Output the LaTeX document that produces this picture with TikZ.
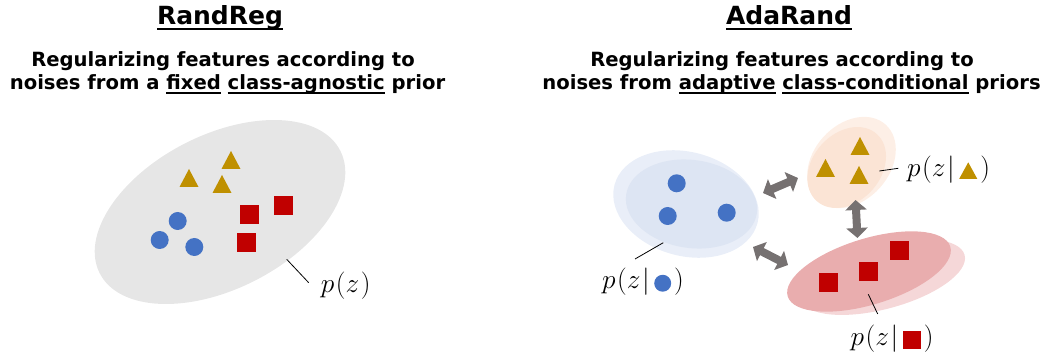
\documentclass[tikz,border=0pt]{standalone}
\usepackage{fontspec}
\usepackage{graphicx}
\newfontfamily\hfont{DejaVu Sans}
\usetikzlibrary{arrows.meta,shapes.geometric}
\definecolor{cgray}{HTML}{E6E6E6}
\definecolor{cblue}{HTML}{4472C4}
\definecolor{cred}{HTML}{C00000}
\definecolor{cgold}{HTML}{BF9000}
\definecolor{cblueA}{HTML}{DDE5F3}
\definecolor{cblueB}{HTML}{E9EEF8}
\definecolor{corA}{HTML}{FBE4D5}
\definecolor{corB}{HTML}{FDEFE6}
\definecolor{credA}{HTML}{E9ADAE}
\definecolor{credB}{HTML}{F5D7D8}
\definecolor{carrow}{HTML}{767171}
\newcommand\ulx[3]{\setbox0\hbox{#3}\rlap{\rule[#1]{\wd0}{#2}}\box0\relax}
\newcommand\symcirc{\tikz[baseline=0pt]{\fill[cblue] (0,5.1pt) circle (7.7pt);}}
\newcommand\symtri{\tikz[baseline=0pt]{\fill[cgold] (-8.2pt,-1.8pt) -- (0,13.2pt) -- (8.2pt,-1.8pt) -- cycle;}}
\newcommand\symsq{\tikz[baseline=0pt]{\fill[cred] (-8.2pt,-2.7pt) rectangle (8.2pt,13.6pt);}}
\newcommand\mlabel[1]{\scalebox{1.1}{#1}}
\tikzset{
  ttl/.style={font=\hfont\bfseries\fontsize{25}{30}\selectfont, inner sep=0pt, anchor=base},
  sub/.style={font=\hfont\bfseries\fontsize{19.6}{23}\selectfont, inner sep=0pt, anchor=base},
  region/.style={ellipse, inner sep=0pt, draw=none},
  dot/.style={circle, fill=cblue, minimum size=18pt, inner sep=0pt},
  sqm/.style={rectangle, fill=cred, minimum size=19pt, inner sep=0pt},
  trim/.pic={\fill[cgold] (-9.5,9) -- (0,-9) -- (9.5,9) -- cycle;},
  lbl/.style={draw=black, line width=0.8pt},
  mlab/.style={font=\fontsize{24.88}{30}\selectfont, inner sep=0pt, anchor=west},
  dbl/.style={draw=carrow, line width=8pt, {Triangle[length=10pt,width=21pt]}-{Triangle[length=10pt,width=21pt]}}
}
\begin{document}
\begin{tikzpicture}[x=1pt,y=-1pt]
\useasboundingbox (0,0) rectangle (1042,358);
% ---------- titles ----------
\node[ttl] (T1) at (220,25) {\ulx{-5pt}{2pt}{RandReg}};
\node[ttl] (T2) at (789,25) {\ulx{-5pt}{2pt}{AdaRand}};
\node[sub] (S1a) at (223,67) {Regularizing features according to};
\node[sub] (S1b) at (227.5,90) {noises from a \ulx{-4pt}{1.5pt}{fixed} \ulx{-4pt}{1.5pt}{class-agnostic} prior};
\node[sub] (S2a) at (782,67) {Regularizing features according to};
\node[sub] (S2b) at (791.5,90) {noises from \ulx{-4pt}{1.5pt}{adaptive} \ulx{-4pt}{1.5pt}{class-conditional} priors};
% ---------- left panel ----------
\node[region, fill=cgray, minimum width=270pt, minimum height=154pt, rotate=27] (P) at (220,212) {};
\pic at (231,160) {trim};
\pic at (189,178) {trim};
\pic at (222,184) {trim};
\node[sqm] (q1) at (249.5,214.5) {};
\node[sqm] (q2) at (283.3,205.3) {};
\node[sqm] (q3) at (246.3,242.2) {};
\node[dot] (c1) at (177.7,221) {};
\node[dot] (c2) at (159.7,240) {};
\node[dot] (c3) at (194.3,247) {};
\coordinate (lp1) at (286.7,259.3);
\coordinate (lp2) at (308.7,282.7);
\draw[lbl] (lp1) -- (lp2);
\node[mlab] (Lp) at (320.7,285.5) {\mlabel{$p\mkern1mu(z\mkern1mu)$}};
% ---------- right panel ----------
\node[region, fill=cblueB, minimum width=148pt, minimum height=104pt, rotate=-15] (B2) at (686,204) {};
\node[region, fill=cblueA, minimum width=132pt, minimum height=88pt, rotate=-8] (B1) at (691.5,204) {};
\node[region, fill=corB, minimum width=102pt, minimum height=76pt, rotate=48] (O2) at (851.5,162.5) {};
\node[region, fill=corA, minimum width=90pt, minimum height=68pt, rotate=48] (O1) at (846.7,167.5) {};
\node[region, fill=credB, minimum width=170pt, minimum height=64pt, rotate=15] (R2) at (882.5,277) {};
\node[region, fill=credA, minimum width=170pt, minimum height=66pt, rotate=17] (R1) at (869,271.5) {};
\node[dot] (d1) at (676.7,183.3) {};
\node[dot] (d2) at (667.7,216) {};
\node[dot] (d3) at (726.7,212.7) {};
\pic at (860,146) {trim};
\pic at (825.5,168) {trim};
\pic at (859,175) {trim};
\node[sqm] (r1) at (828.3,282.5) {};
\node[sqm] (r2) at (868.7,271.5) {};
\node[sqm] (r3) at (899.3,250.5) {};
% arrows
\coordinate (a1s) at (763,193);
\coordinate (a1e) at (798,178);
\coordinate (a2s) at (855.5,200);
\coordinate (a2e) at (857.5,238);
\coordinate (a3s) at (753,247);
\coordinate (a3e) at (788,265);
\draw[dbl] (a1s) -- (a1e);
\draw[dbl] (a2s) -- (a2e);
\draw[dbl] (a3s) -- (a3e);
% labels
\coordinate (lb1) at (663.3,242.7);
\coordinate (lb2) at (635,259);
\draw[lbl] (lb1) -- (lb2);
\node[mlab] (Lb) at (602,282) {\mlabel{$p\mkern1mu(z\mkern1mu|\mkern3mu$\symcirc$\mkern2mu)$}};
\coordinate (lo1) at (879.3,171);
\coordinate (lo2) at (898.3,168.3);
\draw[lbl] (lo1) -- (lo2);
\node[mlab] (Lo) at (907,170) {\mlabel{$p\mkern1mu(z\mkern1mu|\mkern3mu$\symtri$\mkern2mu)$}};
\coordinate (lr1) at (868.3,294.3);
\coordinate (lr2) at (877.7,314);
\draw[lbl] (lr1) -- (lr2);
\node[mlab] (Lr) at (850.5,339) {\mlabel{$p\mkern1mu(z\mkern1mu|\mkern3mu$\symsq$\mkern2mu)$}};
\end{tikzpicture}
\end{document}
